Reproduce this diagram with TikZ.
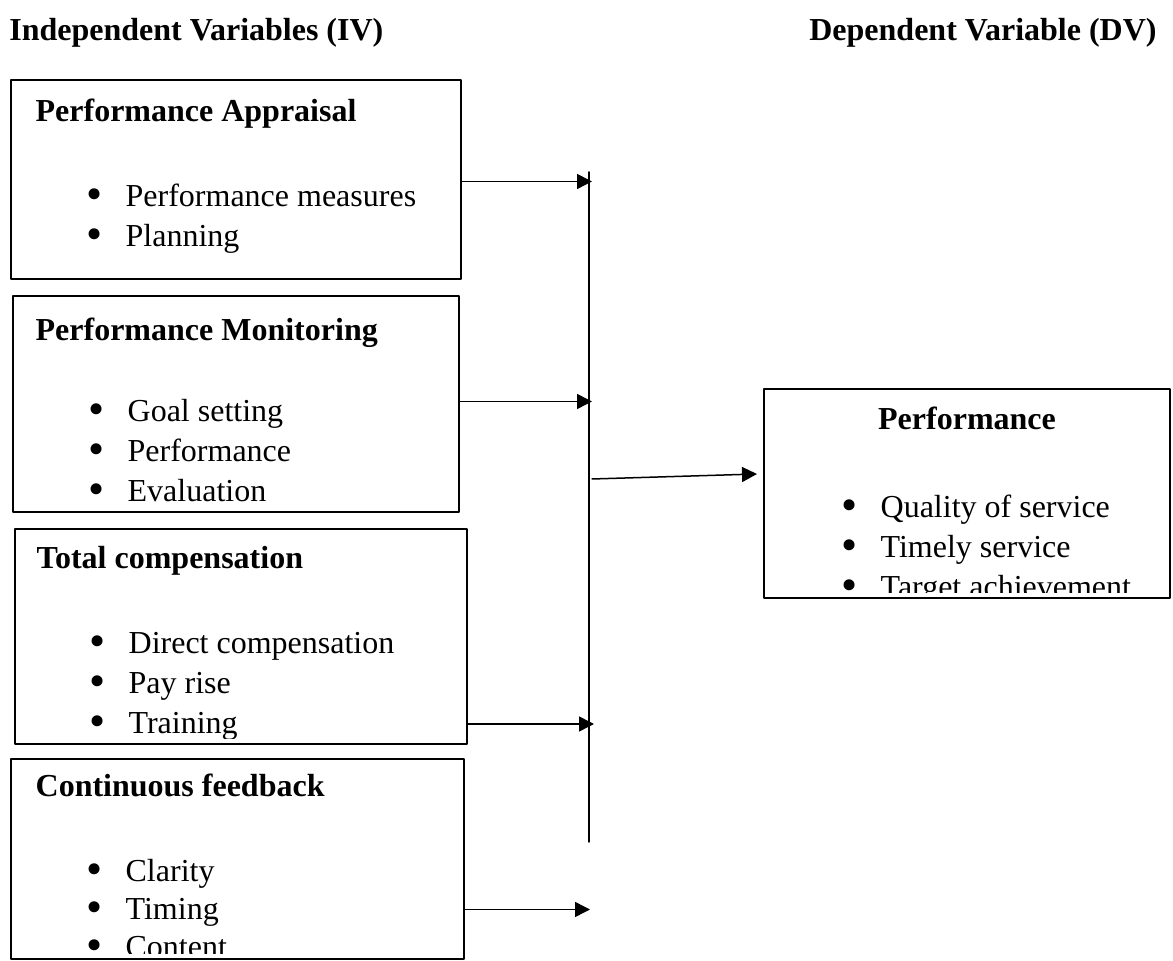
\documentclass[tikz,border=0pt]{standalone}
\usepackage{fontspec}
\setmainfont{Liberation Serif}
\usetikzlibrary{arrows.meta,positioning}
\newcommand{\itm}{\makebox[19.5pt][l]{\raisebox{-1.6pt}{\fontsize{23}{20}\selectfont\textbullet}}}
\tikzset{
    every picture/.style={line cap=round,line join=round},
    varbox/.style={draw=black,line width=0.75pt,inner sep=0pt},
    sidelabel/.style={inner sep=0pt,font=\fontsize{16}{19}\selectfont\bfseries},
    boxhead/.style={anchor=base west,inner sep=0pt,
      font=\fontsize{16}{19}\selectfont\bfseries},
    boxitems/.style={anchor=base west,inner sep=0pt,align=left,
      font=\fontsize{16}{20}\selectfont},
    busline/.style={draw=black,line width=0.75pt},
    linkarrow/.style={-{Triangle[length=7.5pt,width=7.5pt]},draw=black,
      line width=0.75pt}
}
\begin{document}
\begin{tikzpicture}[x=0.5pt,y=-0.5pt]
  \useasboundingbox (0,0) rectangle (1173,961);
  \node[sidelabel,anchor=base west] (ivlabel) at (9,41) {Independent Variables (IV)};
  \node[sidelabel,anchor=base east] (dvlabel) at (1157,41) {Dependent Variable (DV)};
  % the boxes
  \node[varbox,minimum width=225pt,minimum height=99.5pt] (appraisal) at (236,179.5) {};
  \node[varbox,minimum width=223pt,minimum height=108pt] (monitor) at (236,404) {};
  \node[varbox,minimum width=226pt,minimum height=107.5pt] (comp) at (241,636.5) {};
  \node[varbox,minimum width=226.5pt,minimum height=100pt] (feedback) at (237.5,859) {};
  \node[varbox,minimum width=203pt,minimum height=104.5pt] (perf) at (967,493.5) {};
  % box texts, cut off a little above the frame (base = last line)
  \begin{scope}
    \clip ([yshift=3pt]appraisal.south west) rectangle (appraisal.north east);
    \node[boxhead] (appraisalhead) at ([shift={(25,42)}]appraisal.north west) {Performance Appraisal};
    \node[boxitems] (appraisalitems) at ([shift={(76,167)}]appraisal.north west) {\itm Performance measures\\ \itm Planning};
  \end{scope}
  \begin{scope}
    \clip ([yshift=3pt]monitor.south west) rectangle (monitor.north east);
    \node[boxhead] (monitorhead) at ([shift={(23,45)}]monitor.north west) {Performance Monitoring};
    \node[boxitems] (monitoritems) at ([shift={(76,206)}]monitor.north west) {\itm Goal setting\\ \itm Performance\\ \itm Evaluation};
  \end{scope}
  \begin{scope}
    \clip ([yshift=3pt]comp.south west) rectangle (comp.north east);
    \node[boxhead] (comphead) at ([shift={(22,40)}]comp.north west) {Total compensation};
    \node[boxitems] (compitems) at ([shift={(75,205)}]comp.north west) {\itm Direct compensation\\ \itm Pay rise\\ \itm Training};
  \end{scope}
  \begin{scope}
    \clip ([yshift=3pt]feedback.south west) rectangle (feedback.north east);
    \node[boxhead] (feedbackhead) at ([shift={(25,38)}]feedback.north west) {Continuous feedback};
    \node[boxitems,font=\fontsize{16}{19}\selectfont] (feedbackitems) at ([shift={(76,199)}]feedback.north west) {\itm Clarity\\ \itm Timing\\ \itm Content};
  \end{scope}
  \begin{scope}
    \clip ([yshift=3pt]perf.south west) rectangle (perf.north east);
    \node[boxhead,anchor=base] (perfhead) at ([yshift=-20.5pt]perf.north) {Performance};
    \node[boxitems] (perfitems) at ([shift={(78,209)}]perf.north west) {\itm Quality of service\\ \itm Timely service\\ \itm Target achievement};
  \end{scope}
  % collecting line
  \coordinate (bustop) at (589,172);
  \coordinate (busbot) at (589,842);
  \coordinate (in1) at (592,181.5);
  \coordinate (in2) at (592,401.5);
  \coordinate (in3) at (594,724);
  \coordinate (in4) at (590,909.5);
  \coordinate (out) at (592,479);
  \coordinate (perfin) at (757,474);
  \draw[busline] (bustop) -- (busbot);
  \draw[linkarrow] (appraisal.east |- in1) -- (in1);
  \draw[linkarrow] (monitor.east |- in2) -- (in2);
  \draw[linkarrow] (comp.east |- in3) -- (in3);
  \draw[linkarrow] (feedback.east |- in4) -- (in4);
  \draw[linkarrow] (out) -- (perfin);
\end{tikzpicture}
\end{document}
